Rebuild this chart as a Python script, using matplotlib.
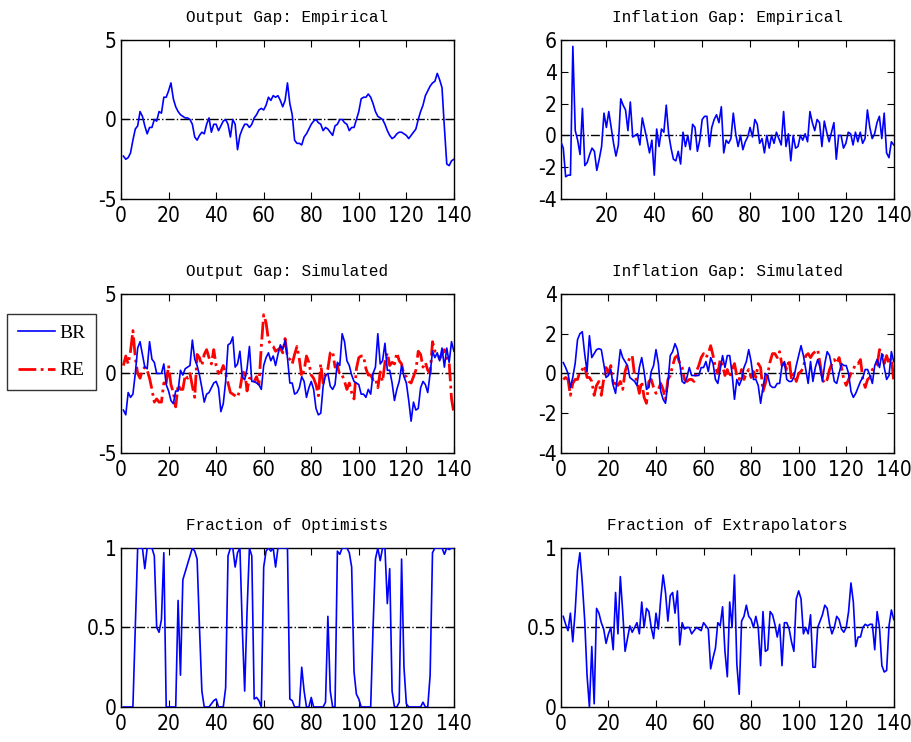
import numpy as np
import matplotlib
matplotlib.use('Agg')
import matplotlib.pyplot as plt
from matplotlib.ticker import FormatStrFormatter

t = np.arange(1, 141)

# output gap, empirical
ygap_emp = [-2.3, -2.5, -2.4, -2.1, -1.3, -0.6, -0.4, 0.5, 0.2, -0.4,
            -0.9, -0.5, -0.5, 0.0, -0.1, 0.5, 0.4, 1.4, 1.4, 1.8,
            2.3, 1.3, 0.8, 0.5, 0.3, 0.2, 0.1, 0.1, 0.0, -0.3,
            -1.1, -1.3, -1.0, -0.8, -0.9, -0.3, 0.1, -0.8, -0.3, -0.3,
            -0.7, -0.4, -0.1, 0.0, -0.3, -1.1, 0.0, -0.3, -1.9, -1.0,
            -0.6, -0.3, -0.3, -0.5, -0.3, 0.1, 0.3, 0.6, 0.7, 0.6,
            0.9, 1.4, 1.2, 1.5, 1.4, 1.5, 1.2, 0.8, 1.2, 2.3,
            1.0, 0.3, -1.3, -1.5, -1.5, -1.6, -1.1, -0.9, -0.6, -0.3,
            -0.1, 0.0, -0.2, -0.3, -0.7, -0.5, -0.6, -0.8, -1.0, -0.4,
            -0.3, 0.0, 0.0, -0.2, -0.3, -0.7, -0.5, -0.5, 0.0, 0.5,
            1.3, 1.4, 1.4, 1.6, 1.4, 1.0, 0.5, 0.2, 0.1, 0.0,
            -0.3, -0.7, -1.0, -1.2, -1.1, -0.9, -0.8, -0.8, -0.9, -1.0,
            -1.2, -1.0, -0.8, -0.6, 0.0, 0.5, 0.9, 1.5, 1.8, 2.1,
            2.3, 2.4, 2.9, 2.5, 2.0, -0.5, -2.8, -2.9, -2.6, -2.5]

# inflation gap, empirical
pgap_emp = [-0.4, -0.8, -2.6, -2.5, -2.5, 5.6, 0.3, -0.3, -1.2, 1.7,
            -1.9, -1.7, -1.2, -0.8, -1.0, -2.2, -1.5, -0.7, 1.4, 0.5,
            1.5, 0.5, -0.5, -1.3, -0.6, 2.3, 1.9, 1.6, 0.3, 2.1,
            -0.1, 0.0, 0.1, -0.6, 1.1, 0.4, -0.3, -1.1, -0.3, -2.5,
            0.4, -0.7, 0.4, 0.2, 1.9, 0.1, -0.8, -1.5, -1.6, -1.0,
            -1.8, 0.2, -0.7, 0.0, -0.9, 0.7, 0.5, -1.0, -0.3, 1.0,
            1.2, 1.2, -0.7, 0.5, 1.0, 1.3, 0.8, 1.8, -1.1, -0.3,
            -0.5, -0.2, 1.4, 0.1, -0.7, 0.0, -0.9, -0.4, -0.1, 0.5,
            -0.1, 1.0, 0.7, -0.5, -0.2, -1.1, 0.0, -0.8, 0.0, -0.5,
            0.2, -0.2, -0.6, 1.5, -0.7, 0.1, -1.6, 0.0, -0.8, -0.7,
            0.0, -0.3, 0.1, -0.4, 1.5, 0.8, 0.3, 1.0, 0.8, -0.7,
            0.9, 0.2, -0.4, 0.2, 0.8, -1.5, 0.0, 0.0, -0.8, -0.5,
            0.2, 0.1, -0.6, 0.2, -0.4, 0.2, -0.5, -0.2, 1.6, 0.5,
            -0.2, 0.1, 0.8, 1.2, -0.2, 1.4, -1.1, -1.4, -0.4, -0.6]

# output gap, simulated (BR and RE)
ygap_br = [-2.3, -2.6, -1.2, -1.5, -1.3, 0.0, 1.6, 2.0, 1.2, 0.4,
           0.3, 2.0, 0.9, 0.7, 0.0, 0.0, 0.0, 0.6, -0.7, -1.1,
           -1.7, -1.9, -1.1, -1.1, 0.2, -0.1, 0.3, 0.4, 0.5, 2.1,
           0.9, 0.5, -0.1, -0.9, -1.8, -1.3, -1.2, -0.9, -0.6, -0.5,
           -0.9, -2.4, -1.9, -0.5, 1.8, 1.9, 2.3, 0.4, 0.6, 1.4,
           -0.2, -0.4, 0.3, 1.7, -0.5, -0.5, -0.6, -0.7, -1.0, 0.5,
           1.0, 1.3, 0.8, 1.1, 0.5, 1.2, 1.8, 1.5, 2.1, 1.0,
           -0.6, -0.6, -1.3, -1.2, -0.9, -0.2, -0.5, -1.5, -0.9, -0.5,
           -1.0, -2.2, -2.6, -2.5, -0.8, -0.1, 0.0, -0.8, -1.0, -0.7,
           0.7, 0.5, 2.5, 2.0, 0.8, 0.5, -0.1, -0.5, -0.6, -0.7,
           -1.3, -1.3, -1.5, -1.0, -1.3, 0.0, 0.4, 2.5, 0.6, 0.8,
           1.9, 0.2, 0.2, -0.6, -1.7, -1.0, -0.5, 0.5, -0.2, -0.6,
           -1.7, -3.0, -1.8, -2.3, -2.2, -0.9, -0.5, -0.7, -1.2, 0.0,
           1.4, 1.0, 1.3, 0.8, 1.6, 0.4, 1.6, 0.7, 2.0, 1.4]

ygap_re = [0.5, 1.1, 0.6, 1.4, 2.7, 1.0, 0.0, -0.3, 0.2, 0.4,
           0.2, -0.3, -1.0, -1.8, -1.6, -1.8, -1.8, -0.6, -0.6, 0.5,
           -0.7, -1.2, -2.1, -0.7, -1.0, -1.0, -0.1, -0.3, 0.0, -0.8,
           -1.5, 1.2, 1.0, 0.5, 1.2, 1.5, 1.0, 0.6, 1.5, 0.5,
           0.0, 0.1, 0.5, 0.0, -0.6, -1.2, -1.3, -1.4, -1.5, -1.0,
           -0.1, 0.2, -1.1, -0.3, -0.3, -0.5, -0.2, -0.7, 1.7, 3.7,
           3.2, 2.1, 1.8, 1.7, 1.4, 1.5, 1.6, 1.3, 2.2, 1.0,
           0.9, 0.6, 1.2, 1.7, 0.9, -0.2, 0.2, 1.1, 0.7, -0.1,
           -0.3, -0.7, -1.4, 0.6, -0.6, -0.1, 0.3, 1.3, 1.4, 0.4,
           0.5, -0.1, -0.1, -0.5, -1.0, -0.6, -1.2, -1.6, 0.3, 1.0,
           1.1, 1.1, 0.3, -0.1, -0.1, -0.4, -0.3, -0.9, 0.1, -0.5,
           0.7, 1.3, 0.5, 0.7, 0.6, 1.3, 0.8, 0.6, -0.1, -0.2,
           -0.5, -0.6, -0.2, 0.2, 1.4, 1.2, 0.4, 0.7, 0.2, 0.0,
           2.0, 1.4, 1.3, 0.9, 1.2, 1.5, 1.0, 0.7, -1.6, -2.5]

# inflation gap, simulated (BR and RE)
pgap_br = [0.55, 0.3, 0.0, -0.7, -0.2, 0.5, 1.7, 2.0, 2.1, 1.0,
           0.1, 1.9, 0.8, 1.0, 1.2, 1.25, 1.2, 0.5, -0.2, -0.1,
           0.2, -0.6, -1.0, 0.1, 1.2, 0.8, 0.6, 0.4, -0.2, -0.3,
           -0.4, -0.6, 0.3, 0.8, 0.1, -0.8, -0.7, 0.1, 0.4, 1.2,
           0.5, -0.9, -1.3, -1.5, -0.5, 0.9, 1.1, 1.5, 1.2, 0.5,
           -0.4, -0.5, -0.2, 0.3, -0.1, -0.1, -0.1, -0.1, 0.3, 0.3,
           0.6, 0.1, 0.8, 0.5, -0.3, -0.5, 0.2, 0.9, 0.3, 0.9,
           0.9, 0.0, -1.3, -0.3, -0.6, -0.3, 0.3, 0.6, 1.2, 0.6,
           -0.3, -0.3, -0.6, -1.5, -0.7, 0.0, -0.1, -0.6, -0.7, -0.7,
           -0.5, -0.5, 0.4, 0.6, -0.3, -0.4, -0.4, -0.2, 0.4, 0.9,
           1.4, 0.9, 0.2, -0.5, 0.6, -0.4, 0.3, 0.7, 0.3, -0.4,
           0.5, 1.1, 0.9, 0.3, -0.4, -0.5, 0.0, 0.5, 0.4, 0.4,
           0.0, -0.9, -1.2, -1.0, -0.7, -0.4, -0.2, 0.2, 0.2, -0.1,
           -0.5, 0.4, 0.7, 0.3, 1.0, 0.3, -0.3, -0.1, 1.1, 0.6]

pgap_re = [-0.3, -0.2, -0.3, -1.1, -0.5, -0.3, -0.3, 0.1, 0.2, 0.4,
           -0.2, -0.2, -0.4, -1.1, -0.6, -0.4, -1.1, -0.3, 0.3, 0.0,
           0.4, -0.5, -0.5, -0.6, -0.4, -0.8, 0.1, 0.5, 0.8, 0.9,
           -0.1, -0.4, -1.0, -0.4, -1.2, -1.5, -0.4, -0.3, -0.7, -1.0,
           -0.8, -0.5, -0.8, -1.3, -0.3, -0.1, 0.4, 0.8, 0.9, 0.5,
           0.3, -0.3, -0.4, -0.3, -0.3, -0.4, 0.1, 0.4, 0.8, 1.0,
           0.8, 1.0, 1.4, 0.9, 0.3, 0.0, 0.7, 0.4, -0.1, 0.2,
           -0.2, 0.2, 0.5, -0.1, -0.3, 0.2, -0.3, 0.0, 0.2, -0.2,
           0.1, -0.2, 0.5, 0.3, -0.9, -0.5, 0.0, 0.6, 1.0, 1.0,
           0.8, 1.1, 0.4, 0.5, 0.2, 0.7, -0.3, 0.0, -0.4, 0.0,
           0.1, 0.3, 0.9, 1.0, 0.8, 1.0, 1.1, 1.2, 0.5, -0.3,
           -0.5, -0.3, 0.2, 0.5, 0.7, 0.5, 0.8, 0.3, -0.3, -0.6,
           -0.3, 0.0, 0.2, 0.5, 0.5, 0.7, -0.3, -0.7, -0.3, -0.2,
           0.2, 0.3, 0.4, 1.2, 1.1, 0.5, 0.9, 0.5, 0.8, -0.4]

# fraction of optimists
frac_opt = [0, 0, 0, 0, 0, 0.5, 1.0, 1.0, 1.0, 0.87,
            1.0, 1.0, 1.0, 0.95, 0.5, 0.47, 0.55, 0.97, 0, 0,
            0, 0, 0, 0.67, 0.2, 0.8, 0.85, 0.9, 0.95, 1.0,
            0.98, 0.93, 0.5, 0.1, 0, 0, 0, 0.02, 0.04, 0.05,
            0, 0, 0, 0.12, 0.95, 1.0, 1.0, 0.88, 0.97, 1.0,
            0.5, 0.1, 0.6, 1.0, 0.95, 0.05, 0.06, 0.04, 0, 0.88,
            0.98, 1.0, 0.98, 1.0, 0.88, 1.0, 1.0, 1.0, 1.0, 1.0,
            0.05, 0.04, 0, 0, 0, 0.25, 0.1, 0, 0, 0.06,
            0, 0, 0, 0, 0, 0.03, 0.57, 0.1, 0, 0,
            0.98, 0.96, 1.0, 1.0, 1.0, 0.97, 0.88, 0.22, 0.08, 0.05,
            0, 0, 0, 0, 0, 0.5, 0.93, 1.0, 0.92, 1.0,
            1.0, 0.65, 0.87, 0.1, 0, 0, 0.03, 0.93, 0.25, 0.02,
            0, 0, 0, 0, 0, 0, 0.03, 0, 0, 0.2,
            0.97, 1.0, 1.0, 1.0, 1.0, 0.96, 1.0, 0.99, 1.0, 1.0]

# fraction of extrapolators
frac_ext = [0.57, 0.52, 0.48, 0.59, 0.41, 0.6, 0.86, 0.97, 0.78, 0.55,
            0.2, 0.0, 0.38, 0.02, 0.62, 0.59, 0.53, 0.49, 0.4, 0.46,
            0.5, 0.36, 0.72, 0.46, 0.82, 0.6, 0.35, 0.43, 0.51, 0.47,
            0.5, 0.53, 0.46, 0.66, 0.5, 0.62, 0.6, 0.5, 0.43, 0.59,
            0.49, 0.68, 0.83, 0.72, 0.54, 0.7, 0.72, 0.59, 0.73, 0.39,
            0.53, 0.49, 0.5, 0.5, 0.46, 0.48, 0.5, 0.49, 0.48, 0.53,
            0.51, 0.49, 0.24, 0.31, 0.37, 0.53, 0.51, 0.63, 0.35, 0.19,
            0.66, 0.5, 0.83, 0.27, 0.08, 0.54, 0.57, 0.64, 0.57, 0.55,
            0.5, 0.57, 0.5, 0.26, 0.6, 0.35, 0.36, 0.6, 0.58, 0.52,
            0.44, 0.52, 0.26, 0.53, 0.53, 0.49, 0.41, 0.35, 0.68, 0.73,
            0.68, 0.46, 0.5, 0.46, 0.58, 0.25, 0.25, 0.5, 0.54, 0.58,
            0.64, 0.62, 0.52, 0.46, 0.5, 0.57, 0.55, 0.49, 0.47, 0.5,
            0.6, 0.78, 0.66, 0.38, 0.44, 0.44, 0.5, 0.52, 0.51, 0.52,
            0.52, 0.36, 0.6, 0.5, 0.26, 0.22, 0.23, 0.51, 0.61, 0.55]

title_font = ['Liberation Mono', 'DejaVu Sans Mono']
legend_font = ['Liberation Serif', 'DejaVu Serif']

fig = plt.figure(figsize=(9.12, 7.42), dpi=100)

colx = [0.1327, 0.615]
rowy = [0.7318, 0.3895, 0.0472]
w, h = 0.365, 0.2143

def setup(ax, title, ylim, yticks, xlim=(0, 140), xticks=range(0, 141, 20), ref=0):
    ax.axhline(ref, color='k', ls='-.', lw=1.0, zorder=1)
    ax.set_xlim(xlim)
    ax.set_ylim(ylim)
    ax.set_xticks(list(xticks))
    ax.set_yticks(yticks)
    ax.yaxis.set_major_formatter(FormatStrFormatter('%g'))
    ax.tick_params(direction='in', top=True, right=True, length=5, width=0.8)
    ax.tick_params(axis='x', pad=5)
    ax.tick_params(axis='y', pad=3)
    for lab in ax.get_xticklabels() + ax.get_yticklabels():
        lab.set_family('DejaVu Sans')
        lab.set_fontstretch('condensed')
        lab.set_fontsize(15)
    ax.set_title(title, family=title_font, fontsize=11.5, pad=13)
    for s in ax.spines.values():
        s.set_linewidth(1.0)

ax1 = fig.add_axes([colx[0], rowy[0], w, h])
ax1.plot(t, ygap_emp, color='b', lw=1.2, zorder=3)
setup(ax1, 'Output Gap: Empirical', (-5, 5), [-5, 0, 5])

ax2 = fig.add_axes([colx[1], rowy[0], w, h])
ax2.plot(t, pgap_emp, color='b', lw=1.2, zorder=3)
setup(ax2, 'Inflation Gap: Empirical', (-4, 6), [-4, -2, 0, 2, 4, 6],
      xlim=(1, 140), xticks=range(20, 141, 20))

ax3 = fig.add_axes([colx[0], rowy[1], w, h])
l1, = ax3.plot(t, ygap_br, color='b', lw=1.2, zorder=3, label='BR')
l2, = ax3.plot(t, ygap_re, color='r', lw=2.0, ls='-.', zorder=2, label='RE')
setup(ax3, 'Output Gap: Simulated', (-5, 5), [-5, 0, 5])

ax4 = fig.add_axes([colx[1], rowy[1], w, h])
ax4.plot(t, pgap_br, color='b', lw=1.2, zorder=3)
ax4.plot(t, pgap_re, color='r', lw=2.0, ls='-.', zorder=2)
setup(ax4, 'Inflation Gap: Simulated', (-4, 4), [-4, -2, 0, 2, 4])

ax5 = fig.add_axes([colx[0], rowy[2], w, h])
ax5.plot(t, frac_opt, color='b', lw=1.2, zorder=3)
setup(ax5, 'Fraction of Optimists', (0, 1), [0, 0.5, 1], ref=0.5)

ax6 = fig.add_axes([colx[1], rowy[2], w, h])
ax6.plot(t, frac_ext, color='b', lw=1.2, zorder=3)
setup(ax6, 'Fraction of Extrapolators', (0, 1), [0, 0.5, 1], ref=0.5)

leg = fig.legend([l1, l2], ['BR', 'RE'], loc='upper left',
                 bbox_to_anchor=(7 / 912, 1 - 314 / 742),
                 prop={'family': legend_font, 'size': 14},
                 frameon=True, fancybox=False, edgecolor='k',
                 handlelength=1.9, borderpad=0.55, labelspacing=1.0,
                 handletextpad=0.25, borderaxespad=0)
leg.get_frame().set_linewidth(1.0)

fig.savefig('out.png', dpi=100)
